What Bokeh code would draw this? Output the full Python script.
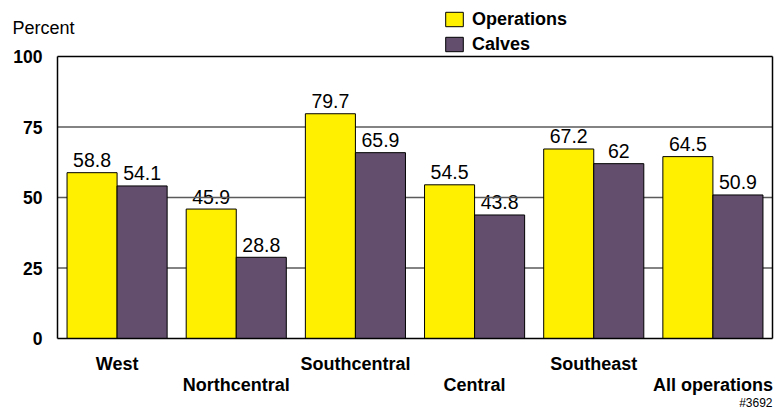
import numpy as np
from bokeh.plotting import figure
from bokeh.models import (Range1d, FixedTicker, ColumnDataSource, LinearAxis,
                          Label, Legend, LegendItem)
from bokeh.core.properties import value
from bokeh.embed import file_html
from bokeh.resources import INLINE

# ---- data ----
regions = ["West", "Northcentral", "Southcentral", "Central", "Southeast", "All operations"]
operations = [58.8, 45.9, 79.7, 54.5, 67.2, 64.5]
calves = [54.1, 28.8, 65.9, 43.8, 62.0, 50.9]
y_ticks = [0, 25, 50, 75, 100]
grid_ticks = [25, 50, 75]
y_title = "Percent"
series_names = ["Operations", "Calves"]
note = "#3692"

# ---- layout (pixels) ----
W, H = 774, 413
PL, PR, PT, PB = 57, 772, 56, 338
FONT = "Liberation Sans"
YELLOW = "#FFF000"
PURPLE = "#634E6E"

n = len(regions)
gpx = (PR - PL) / n
ypx = (PB - PT) / (y_ticks[-1] - y_ticks[0])
x_start = -0.5 - PL / gpx
x_end = n - 0.5 + (W - PR) / gpx
y_end = y_ticks[-1] + PT / ypx
y_start = y_ticks[0] - (H - PB) / ypx

idx = np.arange(n)
src = ColumnDataSource(dict(
    xo=idx - 0.21, xc=idx + 0.21,
    ops=operations, calves=calves,
    ops_txt=[f"{v:g}" for v in operations],
    calves_txt=[f"{v:g}" for v in calves],
))

p = figure(width=W, height=H, x_range=Range1d(x_start, x_end), y_range=Range1d(y_start, y_end),
           x_axis_type=None, y_axis_type=None, output_backend="svg", toolbar_location=None,
           min_border=0, min_border_left=0, min_border_right=0, min_border_top=0, min_border_bottom=0)
p.outline_line_color = None
p.background_fill_color = "white"
p.border_fill_color = "white"

# value labels (under grid lines, as in the reference)
for xcol, ycol, tcol in (("xo", "ops", "ops_txt"), ("xc", "calves", "calves_txt")):
    p.text(x=xcol, y=ycol, text=tcol, source=src, text_font=value(FONT),
           text_font_size="19.5px", text_align="center", text_baseline="alphabetic",
           y_offset=-12.5, text_color="black")

# horizontal grid lines across plot area
p.segment(x0=[-0.5] * len(grid_ticks), x1=[n - 0.5] * len(grid_ticks),
          y0=grid_ticks, y1=grid_ticks, line_color="#5a5a5a", line_width=1.3)

r1 = p.vbar(x="xo", top="ops", width=0.42, source=src,
            fill_color=YELLOW, line_color="black", line_width=1)
r2 = p.vbar(x="xc", top="calves", width=0.42, source=src,
            fill_color=PURPLE, line_color="black", line_width=1)

def bare(axis):
    axis.major_tick_in = 0
    axis.major_tick_out = 0
    axis.minor_tick_in = 0
    axis.minor_tick_out = 0
    return axis

# y axis
yax = bare(LinearAxis(fixed_location=-0.5, bounds=(y_ticks[0], y_ticks[-1]),
                      ticker=FixedTicker(ticks=y_ticks)))
yax.axis_line_color = "black"
yax.axis_line_width = 1.5
yax.major_label_text_font = FONT
yax.major_label_text_font_size = "17.5px"
yax.major_label_text_font_style = "bold"
yax.major_label_text_color = "black"
yax.major_label_standoff = 15
p.add_layout(yax, "left")

# right and top borders of plot area
rax = bare(LinearAxis(fixed_location=n - 0.5, bounds=(y_ticks[0], y_ticks[-1]),
                      ticker=FixedTicker(ticks=[])))
rax.axis_line_color = "black"
rax.axis_line_width = 1.5
rax.major_label_text_font_size = "0px"
p.add_layout(rax, "right")

tax = bare(LinearAxis(fixed_location=y_ticks[-1], bounds=(-0.5, n - 0.5),
                      ticker=FixedTicker(ticks=[])))
tax.axis_line_color = "black"
tax.axis_line_width = 1.5
tax.major_label_text_font_size = "0px"
p.add_layout(tax, "above")

# x axes (staggered labels)
odd_ticks = [int(i) for i in idx[0::2]]
even_ticks = [int(i) for i in idx[1::2]]
for ticks, standoff, line in ((odd_ticks, 15, "black"), (even_ticks, 36, None)):
    xa = bare(LinearAxis(fixed_location=y_ticks[0], bounds=(-0.5, n - 0.5),
                         ticker=FixedTicker(ticks=ticks)))
    xa.major_label_overrides = {t: regions[t] for t in ticks}
    xa.axis_line_color = line
    xa.axis_line_width = 1.5
    xa.major_label_text_font = FONT
    xa.major_label_text_font_size = "18px"
    xa.major_label_text_font_style = "bold"
    xa.major_label_text_color = "black"
    xa.major_label_standoff = standoff
    p.add_layout(xa, "below")

# titles / notes
p.add_layout(Label(x=12, y=H - 27, x_units="screen", y_units="screen", text=y_title,
                   text_font=FONT, text_font_size="18px", text_color="black",
                   text_baseline="alphabetic"))
p.add_layout(Label(x=PR, y=H - 402.5, x_units="screen", y_units="screen", text=note,
                   text_font=FONT, text_font_size="12px", text_color="black",
                   text_align="right", text_baseline="alphabetic"))

legend = Legend(items=[LegendItem(label=series_names[0], renderers=[r1]),
                       LegendItem(label=series_names[1], renderers=[r2])],
                location=(443, H - 56), orientation="vertical",
                padding=0, margin=0, spacing=1, border_line_alpha=0,
                background_fill_alpha=0, glyph_width=22, glyph_height=18,
                label_height=24, label_standoff=7,
                label_text_font=FONT, label_text_font_size="18px",
                label_text_font_style="bold", label_text_color="black")
p.add_layout(legend)

open("out.html", "w").write(file_html(p, INLINE))
